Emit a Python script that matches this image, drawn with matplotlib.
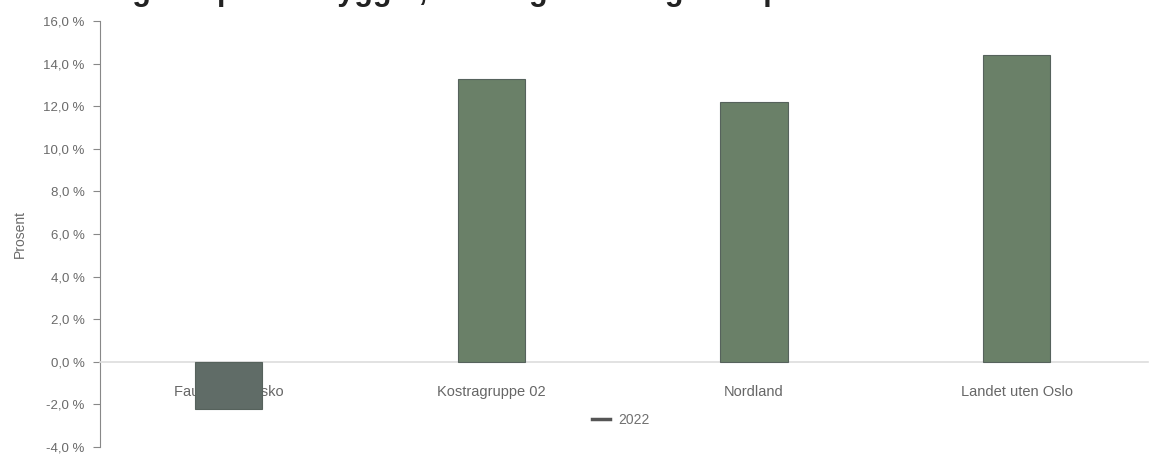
import matplotlib
matplotlib.use("Agg")
import matplotlib.pyplot as plt
from matplotlib.lines import Line2D

categories = ["Fauske - Fuosko", "Kostragruppe 02", "Nordland", "Landet uten Oslo"]
values_2022 = [-2.2, 13.3, 12.2, 14.4]
series_name = "2022"
bar_colors = ["#606c67", "#6a8068", "#6a8068", "#6a8068"]
yticks = [-4, -2, 0, 2, 4, 6, 8, 10, 12, 14, 16]

plt.rcParams['font.family'] = ['Liberation Sans', 'DejaVu Sans']

fig = plt.figure(figsize=(11.52, 4.54), dpi=100)
ax = fig.add_axes([100/1152, 7/454, 1048/1152, 426/454])

x = list(range(len(categories)))
ax.bar(x, values_2022, width=0.256, color=bar_colors, edgecolor="#56625c",
       linewidth=0.8, zorder=3)

ax.spines['bottom'].set_position(('data', 0))
ax.spines['bottom'].set_color("#dddddd")
ax.spines['bottom'].set_linewidth(1.2)
ax.spines['top'].set_visible(False)
ax.spines['right'].set_visible(False)
ax.spines['left'].set_color("#888888")
ax.spines['left'].set_linewidth(0.8)

ax.set_xlim(-0.49, 3.5)
ax.set_ylim(-4, 16)
ax.set_yticks(yticks)
ax.set_yticklabels([f"{v:.1f}".replace(".", ",") + " %" for v in yticks],
                   fontsize=9.5, color="#6a6a6a")
ax.tick_params(axis='y', length=5, color="#888888", pad=6)

ax.set_xticks(x)
ax.set_xticklabels(categories, fontsize=10.5, color="#666666")
ax.tick_params(axis='x', length=0, pad=17, labelcolor="#666666")
for lbl in ax.get_xticklabels():
    lbl.set_zorder(1)
ax.xaxis.set_zorder(1)

ax.set_ylabel("Prosent", fontsize=10, color="#6a6a6a", labelpad=12)

handle = Line2D([0], [0], color="#555555", linewidth=2.5)
ax.legend([handle], [series_name], loc='center', bbox_to_anchor=(0.497, 0.064),
          frameon=False, fontsize=10, handlelength=1.3, handletextpad=0.6,
          labelcolor="#707070")

fig.text(100/1152, 1.0, "Utgifter per innbygger, endring fra forrige år i prosent",
         fontsize=22, fontweight='bold', color="#222222", va='baseline', ha='left')

fig.savefig("out.png", dpi=100, facecolor="white")
